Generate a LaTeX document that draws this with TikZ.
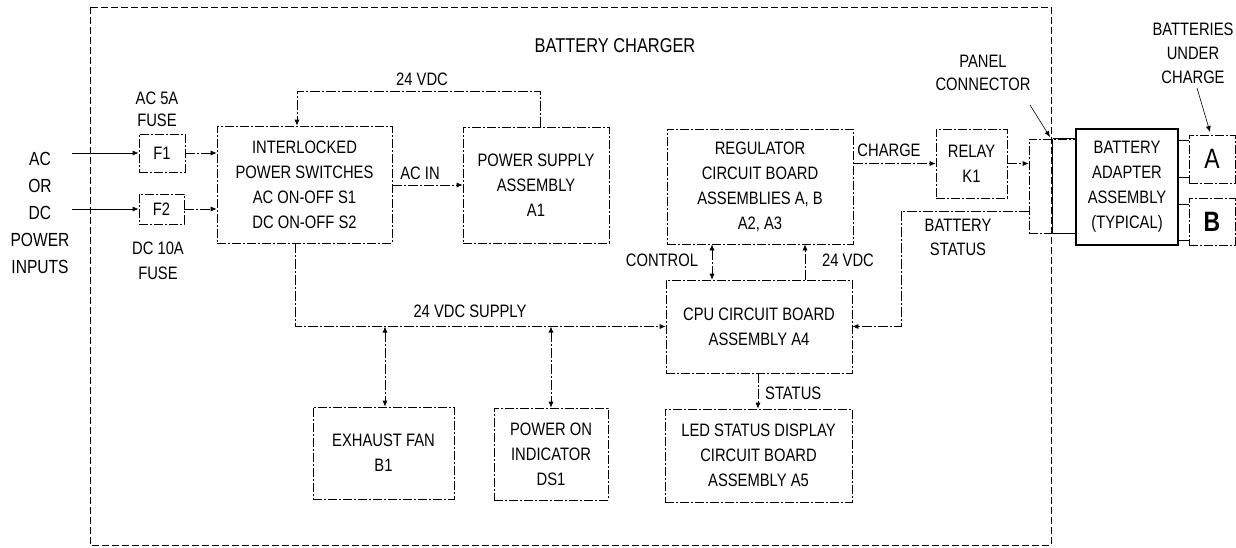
\documentclass[tikz,border=0pt]{standalone}
\usepackage{fontspec}
\setmainfont{Liberation Sans}[FakeStretch=0.82]
\usetikzlibrary{arrows.meta}
\begin{document}
\begin{tikzpicture}[x=1pt,y=-1pt,
  every node/.style={font=\fontsize{18}{25}\selectfont, align=center, inner sep=0pt},
  blk/.style={draw, line width=0.7pt, dash pattern=on 9pt off 2pt on 2pt off 2pt},
  wire/.style={line width=0.7pt, dash pattern=on 10pt off 2pt on 2pt off 2pt},
  solidw/.style={line width=0.8pt},
  arr/.style={-{Latex[length=6pt,width=5pt]}},
  darr/.style={{Latex[length=6pt,width=5pt]}-{Latex[length=6pt,width=5pt]}},
  lbl/.style={font=\fontsize{18}{24}\selectfont}]
\useasboundingbox (0,0) rectangle (1236,547);
% outer border
\draw[line width=0.7pt, dash pattern=on 7pt off 3pt] (90,7) rectangle (1051,545);
\node[font=\fontsize{20}{24}\selectfont] (title) at (615,46) {BATTERY CHARGER};

% inputs
\node[font=\fontsize{19}{27}\selectfont] (inp) at (40,213) {AC\\OR\\DC\\POWER\\INPUTS};
\node[blk, minimum width=46pt, minimum height=38pt] (F1) at (162,153) {F1};
\node[blk, minimum width=45pt, minimum height=30pt] (F2) at (161.5,209) {F2};
\node[lbl, font=\fontsize{18}{22}\selectfont] (f1l) at (157,109) {AC 5A\\FUSE};
\node[lbl, font=\fontsize{18}{25}\selectfont] (f2l) at (158,260.5) {DC 10A\\FUSE};
\coordinate (acin) at (72,153);
\coordinate (dcin) at (72,209);
\draw[solidw, arr] (acin) -- (F1.west);
\draw[solidw, arr] (dcin) -- (F2.west);

\node[blk, minimum width=175pt, minimum height=117pt] (IL) at (304.5,184.5)
  {INTERLOCKED\\POWER SWITCHES\\AC ON-OFF S1\\DC ON-OFF S2};
\draw[wire, arr] (F1.east) -- (F1.east -| IL.west);
\draw[wire, arr] (F2.east) -- (F2.east -| IL.west);

\node[blk, minimum width=146pt, minimum height=116pt] (PS) at (536,185)
  {POWER SUPPLY\\ASSEMBLY\\A1};
\draw[wire, arr] (IL.east |- PS.west) -- (PS.west);
\node[lbl] (acinl) at (420,173) {AC IN};

% 24 VDC loop
\coordinate (l1) at (540,91);
\coordinate (l2) at (297,91);
\draw[wire, arr] (PS.north -| l1) -- (l1) -- (l2) -- (IL.north -| l2);
\node[lbl] (v24a) at (422,79) {24 VDC};

% regulator, relay
\node[blk, minimum width=186pt, minimum height=115pt] (REG) at (760,186.5)
  {REGULATOR\\CIRCUIT BOARD\\ASSEMBLIES A, B\\A2, A3};
\node[blk, minimum width=71pt, minimum height=69pt] (REL) at (971.5,163.5)
  {RELAY\\K1};
\draw[wire, arr] (REG.east |- REL.west) -- (REL.west);
\node[lbl] (chl) at (889,150) {CHARGE};

% panel connector
\node[blk, minimum width=47pt, minimum height=94pt] (PC) at (1052.5,186) {};
\draw[solidw] (PC.north) -- (PC.south);
\draw[solidw] (PC.north) -- (PC.north east);
\draw[solidw] (PC.south) -- (PC.south east);
\draw[wire, arr] (REL.east) -- (REL.east -| PC.west);
\node[lbl, font=\fontsize{18}{23}\selectfont] (pcl) at (983,73) {PANEL\\CONNECTOR};
\coordinate (pca) at (1030,105);
\coordinate (pcb) at (1050,137);
\draw[line width=0.6pt, arr] (pca) -- (pcb);

% battery adapter and batteries
\node[draw, line width=1.4pt, minimum width=102pt, minimum height=116pt] (AD) at (1127,187)
  {BATTERY\\ADAPTER\\ASSEMBLY\\(TYPICAL)};
\node[blk, minimum width=46pt, minimum height=48pt, font=\fontsize{28}{30}\selectfont] (BA) at (1212,159) {A};
\node[blk, minimum width=46pt, minimum height=47pt, font=\fontsize{28}{30}\selectfont\bfseries] (BB) at (1212,221.5) {B};
\draw[solidw] (AD.east |- 0,140) -- (BA.west |- 0,140);
\draw[solidw] (AD.east |- 0,177) -- (BA.west |- 0,177);
\draw[solidw] (AD.east |- 0,204) -- (BB.west |- 0,204);
\draw[solidw] (AD.east |- 0,240) -- (BB.west |- 0,240);
\node[lbl] (bul) at (1193,53) {BATTERIES\\UNDER\\CHARGE};
\coordinate (bua) at (1197,88);
\coordinate (bub) at (1210,132);
\draw[line width=0.6pt, arr] (bua) -- (bub);

% CPU
\node[blk, minimum width=186pt, minimum height=93pt] (CPU) at (759,326.5)
  {CPU CIRCUIT BOARD\\ASSEMBLY A4};
\coordinate (bs1) at (901,211);
\coordinate (bs2) at (901,326.5);
\draw[wire, arr] (PC.west |- bs1) -- (bs1) -- (bs2) -- (CPU.east);
\node[lbl] (bsl) at (958,237.5) {BATTERY\\STATUS};

\coordinate (ctl) at (712,0);
\coordinate (v24b) at (805,0);
\draw[wire, darr] (REG.south -| ctl) -- (CPU.north -| ctl);
\draw[wire, arr] (CPU.north -| v24b) -- (REG.south -| v24b);
\node[lbl] (ctll) at (662,260) {CONTROL};
\node[lbl] (v24bl) at (848,260) {24 VDC};

% LED
\node[blk, minimum width=187pt, minimum height=93pt] (LED) at (758.5,455.5)
  {LED STATUS DISPLAY\\CIRCUIT BOARD\\ASSEMBLY A5};
\coordinate (st) at (758,0);
\draw[wire, arr] (CPU.south -| st) -- (LED.north -| st);
\node[lbl, anchor=west] (stl) at (765,393) {STATUS};

% 24 VDC supply bus
\coordinate (b0) at (295,0);
\coordinate (b1) at (295,326.5);
\draw[wire, arr] (IL.south -| b0) -- (b1) -- (CPU.west);
\node[lbl] (busl) at (470,311) {24 VDC SUPPLY};
\node[blk, minimum width=141pt, minimum height=92pt] (FAN) at (383.5,453) {EXHAUST FAN\\B1};
\node[blk, minimum width=114pt, minimum height=92pt] (PWR) at (551,454) {POWER ON\\INDICATOR\\DS1};
\coordinate (j1) at (385,326.5);
\coordinate (j2) at (551,326.5);
\draw[wire, darr] (j1) -- (FAN.north -| j1);
\draw[wire, darr] (j2) -- (PWR.north -| j2);
\end{tikzpicture}
\end{document}
